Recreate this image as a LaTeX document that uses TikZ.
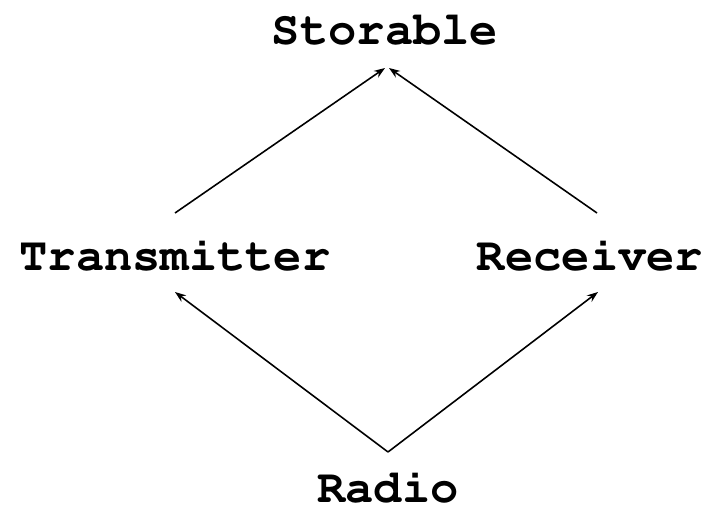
\documentclass[tikz,border=0pt]{standalone}
\usepackage[T1]{fontenc}
\usetikzlibrary{arrows.meta}

\begin{document}
\begin{tikzpicture}[
	cls/.style={font=\fontsize{13.4}{16}\fontfamily{pcr}\fontseries{b}\selectfont, anchor=base, inner sep=0pt},
	isa/.style={-{Stealth[length=.11cm,width=.08cm]}, line width=.45pt}
]
	\useasboundingbox (0,0) rectangle (7.16,5.08);

	\node[cls] (storable) at (3.85,4.63) {Storable};
	\node[cls] (transmitter) at (1.75,2.37) {Transmitter};
	\node[cls] (receiver) at (5.90,2.37) {Receiver};
	\node[cls] (radio) at (3.88,0.06) {Radio};

	\draw[isa] ([yshift=.58cm]transmitter.base) -- ([yshift=-.23cm]storable.base);
	\draw[isa] ([xshift=.07cm,yshift=.58cm]receiver.base) -- ([xshift=.04cm,yshift=-.23cm]storable.base);
	\draw[isa] ([yshift=.50cm]radio.base) -- ([yshift=-.21cm]transmitter.base);
	\draw[isa] ([yshift=.50cm]radio.base) -- ([xshift=.08cm,yshift=-.21cm]receiver.base);
\end{tikzpicture}
\end{document}
